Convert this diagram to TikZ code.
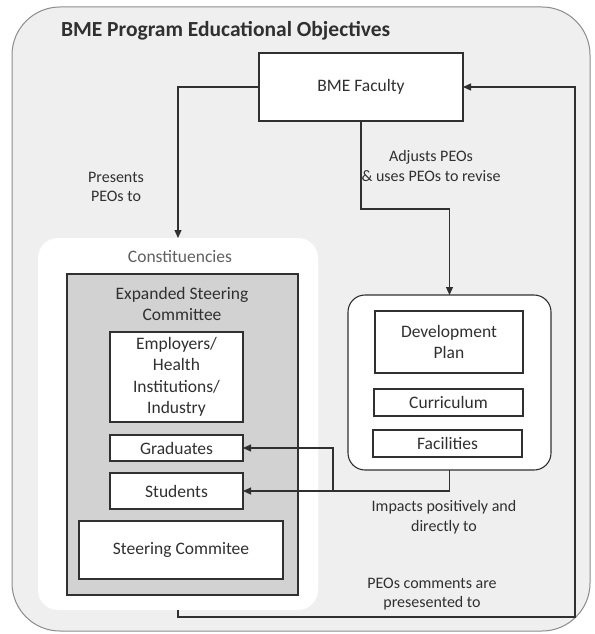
\documentclass[tikz,border=0pt]{standalone}
\usepackage{fontspec}
\setmainfont{Carlito}
\usetikzlibrary{arrows.meta,calc}
\definecolor{ink}{HTML}{303030}
\definecolor{panel}{HTML}{EFEFEF}
\definecolor{frame}{HTML}{8C8C8C}
\definecolor{shade}{HTML}{D2D2D2}
\begin{document}
\begin{tikzpicture}[x=1pt,y=-1pt,
  every node/.style={inner sep=0pt, outer sep=0pt},
  txt/.style={font=\fontsize{17.5}{21.5}\selectfont, text=ink, align=center},
  lbl/.style={font=\fontsize{16}{19.5}\selectfont, text=ink, align=center},
  box/.style={txt, draw=ink, line width=1.1pt, fill=white},
  link/.style={draw=ink, line width=1.1pt},
  arr/.style={link, -{Triangle[length=8pt,width=7pt]}}
]
\useasboundingbox (0,0) rectangle (594,634);
\fill[white] (0,0) rectangle (594,634);

% outer panel and title
\draw[fill=panel, draw=frame, line width=1pt, rounded corners=48pt] (12,7) rectangle (590,631);
\node[anchor=west, font=\fontsize{21.5}{25}\selectfont\bfseries, text=ink] (title) at (61,31) {BME Program Educational Objectives};

% faculty
\node[box, minimum width=204pt, minimum height=68pt] (faculty) at (361,87) {BME Faculty};

% constituencies group
\node[fill=white, rounded corners=20pt, minimum width=280pt, minimum height=372pt] (constit) at (178,424) {};
\node[txt, text=gray!75!black] (consttitle) at (180,257) {Constituencies};
\node[draw=ink, fill=shade, line width=1.1pt, minimum width=231pt, minimum height=321pt] (expanded) at (182.5,434.5) {};
\node[txt] (exptitle) at (182,304) {Expanded Steering\\Committee};
\node[box, minimum width=133pt, minimum height=90pt] (employers) at (176.5,377) {Employers/\\Health\\Institutions/\\Industry};
\node[box, minimum width=133pt, minimum height=26pt] (graduates) at (176.5,448) {Graduates};
\node[box, minimum width=133pt, minimum height=36pt] (students) at (176.5,491) {Students};
\node[box, minimum width=204pt, minimum height=58pt] (steering) at (181,550) {Steering Commitee};

% development group
\node[draw=ink, fill=white, rounded corners=17pt, line width=1.1pt, minimum width=203pt, minimum height=175pt] (devgroup) at (449.5,382.5) {};
\node[box, minimum width=148pt, minimum height=62pt] (devplan) at (449,342) {Development\\Plan};
\node[box, minimum width=149pt, minimum height=27pt] (curriculum) at (448.5,402.5) {Curriculum};
\node[box, minimum width=149pt, minimum height=27pt] (facilities) at (447.5,443.5) {Facilities};

% connectors
\coordinate (bend) at (361,209);
\coordinate (split) at (333,490);
\coordinate (rail) at (575,617);

\draw[arr] (faculty.west) -| (constit.north);
\draw[arr] (faculty.south) -- (bend) -| (devgroup.north);
\draw[arr] (devgroup.south) |- (students.east);
\draw[arr] (split |- students.east) |- (graduates.east);
\draw[arr] (constit.south) |- (rail) -- (rail |- faculty.east) -- (faculty.east);

% connector labels
\node[lbl] (presents) at (116,187) {Presents\\PEOs to};
\node[lbl] (adjusts) at (431,166) {Adjusts PEOs\\\& uses PEOs to revise};
\node[lbl] (impacts) at (444,517) {Impacts positively and\\directly to};
\node[lbl] (comments) at (432,594) {PEOs comments are\\presesented to};
\end{tikzpicture}
\end{document}
